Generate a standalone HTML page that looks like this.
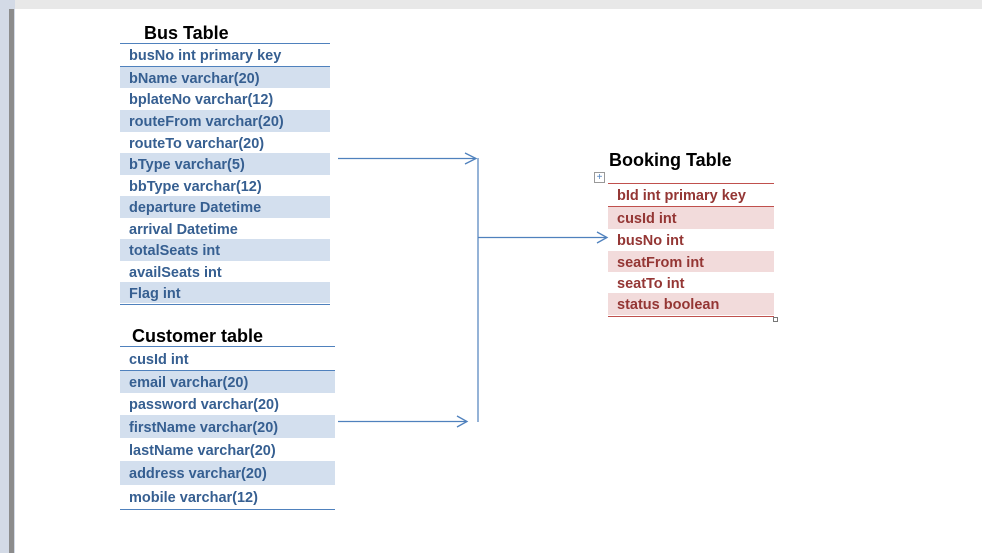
<!DOCTYPE html>
<html><head><meta charset="utf-8"><style>
*{margin:0;padding:0;box-sizing:border-box}
body{width:982px;height:553px;overflow:hidden;background:#fff;position:relative;font-family:"Liberation Sans",sans-serif}
.a{position:absolute}
.t{position:absolute;font-weight:bold;font-size:18px;color:#000}
.r{position:absolute;font-weight:bold;font-size:14.5px;line-height:1;white-space:nowrap;padding-left:9px;padding-top:3px;display:flex;align-items:center}
.b{color:#365f91}.bs{background:#d3dfee}
.k{color:#943634}.ks{background:#f2dbdb}
.ln{position:absolute;height:1px}
</style></head><body>
<div class="a" style="left:0;top:0;width:982px;height:9px;background:#e8e8e8"></div>
<div class="a" style="left:0;top:0;width:15px;height:553px;background:#d3dae6"></div>
<div class="a" style="left:9px;top:9px;width:5px;height:544px;background:#8c8c8c"></div>

<div class="t" style="left:144px;top:23px">Bus Table</div>
<div class="ln" style="left:120px;top:43px;width:210px;background:#4f81bd"></div>
<div class="r b" style="left:120px;top:44px;width:210px;height:22px">busNo int primary key</div>
<div class="ln" style="left:120px;top:66px;width:210px;background:#4f81bd"></div>
<div class="r b bs" style="left:120px;top:67px;width:210px;height:21px">bName varchar(20)</div>
<div class="r b" style="left:120px;top:88px;width:210px;height:22px">bplateNo varchar(12)</div>
<div class="r b bs" style="left:120px;top:110px;width:210px;height:22px">routeFrom varchar(20)</div>
<div class="r b" style="left:120px;top:132px;width:210px;height:21px">routeTo varchar(20)</div>
<div class="r b bs" style="left:120px;top:153px;width:210px;height:22px">bType varchar(5)</div>
<div class="r b" style="left:120px;top:175px;width:210px;height:21px">bbType varchar(12)</div>
<div class="r b bs" style="left:120px;top:196px;width:210px;height:22px">departure Datetime</div>
<div class="r b" style="left:120px;top:218px;width:210px;height:21px">arrival Datetime</div>
<div class="r b bs" style="left:120px;top:239px;width:210px;height:22px">totalSeats int</div>
<div class="r b" style="left:120px;top:261px;width:210px;height:21px">availSeats int</div>
<div class="r b bs" style="left:120px;top:282px;width:210px;height:21px">Flag int</div>
<div class="ln" style="left:120px;top:304px;width:210px;background:#4f81bd"></div>

<div class="t" style="left:132px;top:326px">Customer table</div>
<div class="ln" style="left:120px;top:346px;width:215px;background:#4f81bd"></div>
<div class="r b" style="left:120px;top:347px;width:215px;height:23px">cusId int</div>
<div class="ln" style="left:120px;top:370px;width:215px;background:#4f81bd"></div>
<div class="r b bs" style="left:120px;top:371px;width:215px;height:22px">email varchar(20)</div>
<div class="r b" style="left:120px;top:393px;width:215px;height:22px">password varchar(20)</div>
<div class="r b bs" style="left:120px;top:415px;width:215px;height:23px">firstName varchar(20)</div>
<div class="r b" style="left:120px;top:438px;width:215px;height:23px">lastName varchar(20)</div>
<div class="r b bs" style="left:120px;top:461px;width:215px;height:24px">address varchar(20)</div>
<div class="r b" style="left:120px;top:485px;width:215px;height:23px">mobile varchar(12)</div>
<div class="ln" style="left:120px;top:509px;width:215px;background:#4f81bd"></div>

<div class="t" style="left:609px;top:150px">Booking Table</div>
<div class="a" style="left:594px;top:172px;width:11px;height:11px;border:1px solid #999;color:#4f81bd;font-size:10px;line-height:9px;text-align:center">+</div>
<div class="ln" style="left:608px;top:183px;width:166px;background:#c0504d"></div>
<div class="r k" style="left:608px;top:184px;width:166px;height:22px">bId int primary key</div>
<div class="ln" style="left:608px;top:206px;width:166px;background:#c0504d"></div>
<div class="r k ks" style="left:608px;top:207px;width:166px;height:22px">cusId int</div>
<div class="r k" style="left:608px;top:229px;width:166px;height:22px">busNo int</div>
<div class="r k ks" style="left:608px;top:251px;width:166px;height:21px">seatFrom int</div>
<div class="r k" style="left:608px;top:272px;width:166px;height:21px">seatTo int</div>
<div class="r k ks" style="left:608px;top:293px;width:166px;height:22px">status boolean</div>
<div class="ln" style="left:608px;top:316px;width:166px;background:#c0504d"></div>
<div class="a" style="left:773px;top:317px;width:5px;height:5px;border:1px solid #777"></div>

<svg class="a" style="left:0;top:0" width="982" height="553">
<g stroke="#4f81bd" stroke-width="1.3" fill="none">
<line x1="338" y1="158.5" x2="476" y2="158.5"/>
<polyline points="465,153 476,158.5 465,164"/>
<line x1="338" y1="421.5" x2="467" y2="421.5"/>
<polyline points="457,416 467,421.5 457,427"/>
<line x1="478" y1="158" x2="478" y2="422" stroke="#95b3d7" stroke-width="2"/>
<line x1="478" y1="237.5" x2="607" y2="237.5"/>
<polyline points="597,232 607,237.5 597,243"/>
</g></svg>
</body></html>
